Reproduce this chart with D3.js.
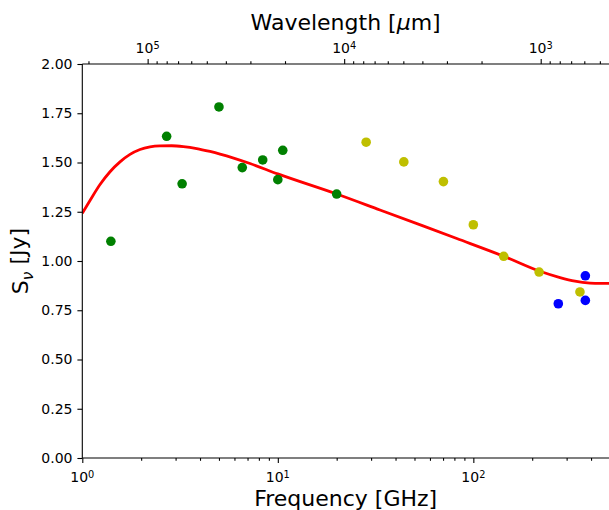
<!DOCTYPE html>
<html>
<head>
<meta charset="utf-8">
<script src="https://cdn.jsdelivr.net/npm/d3@7"></script>
<style>
  html, body { margin: 0; padding: 0; background: #fff; }
  svg { display: block; font-family: "DejaVu Sans", sans-serif; }
</style>
</head>
<body>
<svg id="chart" width="609" height="510"></svg>
<script>
// ---- data ----
const freqDomain = [1, 500];          // GHz
const waveDomain = [2.15e5, 444];     // micron (top axis)
const sDomain = [0, 2];
const yTicks = [0, 0.25, 0.5, 0.75, 1.0, 1.25, 1.5, 1.75, 2.0];
const xMajorTicks = [1, 10, 100];
const xMinorTicks = [2,3,4,5,6,7,8,9,20,30,40,50,60,70,80,90,200,300,400];
const topMajorTicks = [1e5, 1e4, 1e3];
const topMinorTicks = [2e5, 9e4,8e4,7e4,6e4,5e4,4e4,3e4,2e4, 9e3,8e3,7e3,6e3,5e3,4e3,3e3,2e3, 9e2,8e2,7e2,6e2,5e2];

const greenFreq = [1.4, 2.7, 3.24, 5.0, 6.58, 8.37, 10.0, 10.6, 20.0];
const greenFlux = [1.10, 1.633, 1.392, 1.782, 1.474, 1.513, 1.413, 1.562, 1.340];
const yellowFreq = [28.3, 44.1, 70.3, 100, 143, 217, 351];
const yellowFlux = [1.603, 1.503, 1.403, 1.184, 1.024, 0.944, 0.843];
const blueFreq = [272, 374, 374];
const blueFlux = [0.783, 0.925, 0.800];

const modelFreq = [1.0, 1.095, 1.232, 1.386, 1.559, 1.754, 1.973, 2.22, 2.497, 2.866, 3.286, 3.848, 4.5, 5.063, 7.21, 10.0, 20.0, 33.3, 55.3, 82.3, 143, 217, 277.6, 331, 395, 445, 500];
const modelFlux = [1.242, 1.307, 1.388, 1.453, 1.503, 1.541, 1.566, 1.579, 1.584, 1.585, 1.581, 1.571, 1.556, 1.543, 1.495, 1.442, 1.340, 1.259, 1.178, 1.114, 1.024, 0.949, 0.916, 0.898, 0.888, 0.886, 0.887];

// ---- layout ----
const L = 82.3, R = 610, T = 64, B = 458;
const svg = d3.select("#chart");
svg.append("rect").attr("width", 609).attr("height", 510).attr("fill", "#fff");

const x = d3.scaleLog().domain(freqDomain).range([L, R]);
const xt = d3.scaleLog().domain(waveDomain).range([L, R]);
const y = d3.scaleLinear().domain(sDomain).range([B, T]);

svg.append("defs").append("clipPath").attr("id", "clip")
  .append("rect").attr("x", L).attr("y", T).attr("width", R - L).attr("height", B - T);

const plot = svg.append("g").attr("clip-path", "url(#clip)");

// model curve
const line = d3.line().x(d => x(d[0])).y(d => y(d[1])).curve(d3.curveMonotoneX);
plot.append("path")
  .datum(modelFreq.map((f, i) => [f, modelFlux[i]]))
  .attr("d", line).attr("fill", "none").attr("stroke", "#ff0000").attr("stroke-width", 2.8);

function pts(fs, ss, col) {
  plot.selectAll(null).data(fs.map((f, i) => [f, ss[i]])).enter()
    .append("circle").attr("cx", d => x(d[0])).attr("cy", d => y(d[1]))
    .attr("r", 4.8).attr("fill", col);
}
pts(greenFreq, greenFlux, "#008000");
pts(yellowFreq, yellowFlux, "#bfbf00");
pts(blueFreq, blueFlux, "#0000ff");

// ---- axes ----
const fmtPow = v => Math.round(Math.log10(v));
function supLabel(sel, v) {
  sel.text(null);
  sel.append("tspan").text("10");
  sel.append("tspan").attr("dy", "-0.45em").attr("font-size", "0.7em").text(fmtPow(v));
}

const xAxis = svg.append("g").attr("transform", `translate(0,${B})`)
  .call(d3.axisBottom(x).tickValues(xMajorTicks).tickSize(4.9).tickPadding(4.9).tickFormat(""));
const xMinor = svg.append("g").attr("transform", `translate(0,${B})`)
  .call(d3.axisBottom(x).tickValues(xMinorTicks).tickSize(2.8).tickFormat(""));
const topAxis = svg.append("g").attr("transform", `translate(0,${T})`)
  .call(d3.axisTop(xt).tickValues(topMajorTicks).tickSize(4.9).tickPadding(4.9).tickFormat(""));
const topMinor = svg.append("g").attr("transform", `translate(0,${T})`)
  .call(d3.axisTop(xt).tickValues(topMinorTicks).tickSize(2.8).tickFormat(""));
const yAxis = svg.append("g").attr("transform", `translate(${L},0)`)
  .call(d3.axisLeft(y).tickValues(yTicks).tickSize(4.9).tickPadding(4.9).tickFormat(d3.format(".2f")));

[xAxis, xMinor, topAxis, topMinor, yAxis].forEach(g => {
  g.select(".domain").remove();
  g.selectAll(".tick line").attr("stroke", "#000").attr("stroke-width", 1.1);
});
yAxis.selectAll(".tick text").attr("font-size", 14).attr("fill", "#000")
  .attr("font-family", "DejaVu Sans");

// log tick labels
svg.selectAll(null).data(xMajorTicks).enter().append("text")
  .attr("x", d => x(d)).attr("y", B + 24).attr("text-anchor", "middle")
  .attr("font-size", 14).attr("fill", "#000")
  .each(function(d) { supLabel(d3.select(this), d); });
svg.selectAll(null).data(topMajorTicks).enter().append("text")
  .attr("x", d => xt(d)).attr("y", T - 11).attr("text-anchor", "middle")
  .attr("font-size", 14).attr("fill", "#000")
  .each(function(d) { supLabel(d3.select(this), d); });

// spines
svg.append("line").attr("x1", L).attr("x2", L).attr("y1", T).attr("y2", B).attr("stroke", "#000").attr("stroke-width", 1.1);
svg.append("line").attr("x1", L).attr("x2", R).attr("y1", B).attr("y2", B).attr("stroke", "#000").attr("stroke-width", 1.1);
svg.append("line").attr("x1", L).attr("x2", R).attr("y1", T).attr("y2", T).attr("stroke", "#000").attr("stroke-width", 1.1);
svg.append("line").attr("x1", R).attr("x2", R).attr("y1", T).attr("y2", B).attr("stroke", "#000").attr("stroke-width", 1.1);

// axis labels
svg.append("text").attr("x", (L + R) / 2 - 0.5).attr("y", 506).attr("text-anchor", "middle")
  .attr("font-size", 22).attr("fill", "#000").text("Frequency [GHz]");

const tl = svg.append("text").attr("x", (L + R) / 2 - 0.5).attr("y", 30).attr("text-anchor", "middle")
  .attr("font-size", 22).attr("fill", "#000");
tl.append("tspan").text("Wavelength [");
tl.append("tspan").attr("font-style", "italic").text("μ");
tl.append("tspan").text("m]");

const yl = svg.append("text").attr("transform", `translate(28,${(T + B) / 2}) rotate(-90)`)
  .attr("text-anchor", "middle").attr("font-size", 22).attr("fill", "#000");
yl.append("tspan").text("S");
yl.append("tspan").attr("font-style", "italic").attr("font-size", "0.7em").attr("dy", "0.3em").text("ν");
yl.append("tspan").attr("dy", "-0.3em").text(" [Jy]");
</script>
</body>
</html>
